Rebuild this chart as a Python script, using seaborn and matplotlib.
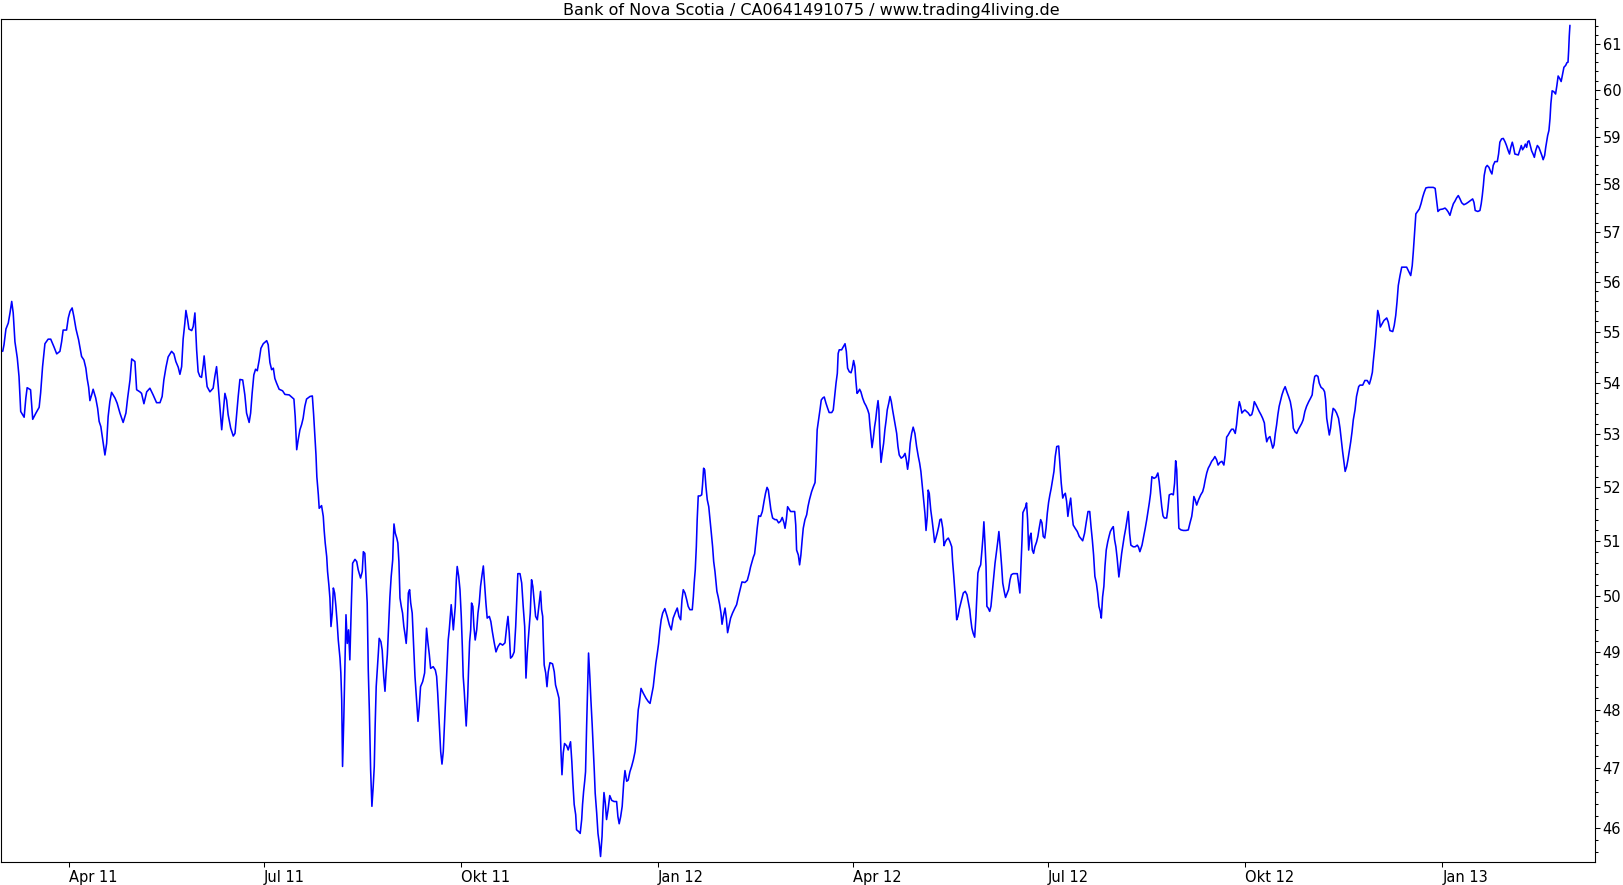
import matplotlib
matplotlib.use("Agg")
import matplotlib.pyplot as plt
from matplotlib.ticker import FixedLocator, FixedFormatter, NullFormatter, NullLocator
import pandas as pd
import seaborn as sns

TITLE = "Bank of Nova Scotia / CA0641491075 / www.trading4living.de"
START = "2011-03-01"

# days since START
DAYS = [
    0.1, 0.7, 1.6, 2.7, 3.5, 4.3, 5.0, 5.8, 6.9, 7.7,
    8.5, 9.4, 10.1, 10.9, 11.5, 13.1, 14.1, 15.6, 17.1, 17.8,
    18.7, 19.8, 21.3, 22.5, 24.0, 25.3, 26.8, 27.6, 28.3, 29.9,
    30.7, 31.5, 32.5, 33.3, 34.3, 35.5, 36.9, 38.0, 38.9, 39.5,
    40.2, 40.8, 41.6, 42.3, 43.5, 44.4, 45.1, 45.9, 47.0, 47.8,
    48.6, 49.3, 50.1, 50.9, 52.5, 53.5, 54.8, 56.3, 57.6, 58.4,
    59.5, 60.3, 61.8, 62.6, 64.1, 64.9, 66.0, 67.3, 68.8, 70.3,
    71.9, 73.5, 74.5, 75.3, 76.3, 77.3, 78.9, 80.0, 80.9, 82.0,
    82.8, 83.6, 84.3, 85.1, 85.6, 86.4, 87.0, 88.3, 89.0, 89.8,
    90.6, 91.3, 92.1, 92.9, 93.7, 94.1, 94.9, 95.5, 96.8, 98.3,
    99.1, 99.9, 100.7, 101.5, 102.3, 103.0, 103.8, 104.6, 105.3, 106.5,
    107.7, 108.5, 109.3, 110.0, 110.8, 112.1, 113.1, 113.9, 115.1, 115.8,
    116.5, 117.3, 118.1, 118.9, 119.8, 120.6, 121.7, 123.3, 124.0,
    124.8, 125.6, 126.4, 127.1, 127.9, 129.1, 130.7, 131.8, 133.8, 134.9,
    136.0, 136.6, 137.3, 138.0, 138.8, 139.6, 140.3, 141.1, 141.9, 143.5,
    144.6, 145.2, 145.8, 146.3, 146.7, 147.4, 147.8, 148.9, 149.7, 150.1,
    150.6, 151.3, 151.7, 152.3, 152.8, 153.3, 153.9, 154.4, 155.0, 155.6,
    156.2, 156.7, 157.5, 157.9, 158.3, 158.7, 159.3, 159.8, 160.3, 160.9,
    161.5, 162.1, 162.5, 162.9, 163.4, 164.5, 165.3, 166.0, 167.1, 167.9,
    168.4, 169.1, 169.6, 170.2, 170.7, 171.2, 171.8, 172.4, 173.0, 173.5,
    173.9, 174.4, 174.9, 175.4, 175.8, 176.6, 177.2, 177.9, 178.5, 179.0,
    179.6, 180.2, 180.8, 181.4, 182.1, 182.4, 182.7, 183.3, 184.0, 184.5,
    185.0, 185.5, 186.1, 186.7, 187.3, 187.9, 188.4, 188.9, 189.4, 190.0,
    190.5, 191.2, 192.0, 192.5, 192.9, 193.4, 193.9, 194.5, 195.1, 196.1,
    197.0, 197.5, 197.9, 198.5, 199.2, 199.8, 201.0, 202.0, 202.6, 203.1,
    203.5, 204.0, 204.5, 205.1, 205.7, 206.3, 206.9, 207.4, 208.0, 208.5,
    209.0, 209.4, 209.9, 210.4, 210.8, 211.3, 211.8, 212.2, 212.9, 213.5,
    214.1, 214.6, 215.0, 215.5, 216.0, 216.4, 217.1, 217.5, 218.0, 218.5,
    218.9, 219.5, 220.0, 220.6, 221.3, 221.9, 222.5, 223.1, 223.8, 224.4,
    225.0, 225.6, 226.2, 227.2, 227.9, 228.6, 229.4, 230.3, 231.2, 232.2,
    233.4, 234.5, 235.3, 235.9, 236.5, 237.1, 237.9, 238.8, 239.5, 240.0,
    240.5, 241.5, 242.3, 243.0, 243.7, 244.3, 244.9, 245.7, 246.3, 246.9,
    247.5, 248.2, 248.8, 249.6, 250.5,
    251.1, 251.6, 252.1, 252.4, 252.8, 253.5, 254.1, 254.7, 255.5, 256.7,
    257.5, 258.1, 258.9, 259.7, 260.2, 260.6, 261.1, 261.7, 262.3, 263.3,
    264.0, 265.1, 265.7, 266.2, 266.8, 267.5, 267.9, 268.9, 269.6, 270.3,
    270.7, 271.2, 271.7, 272.1, 272.6, 273.1, 273.5, 274.1, 274.6, 275.2,
    275.7, 276.2, 276.6, 277.3, 277.9, 278.5, 279.1, 279.8, 280.2, 280.7,
    281.3, 281.9, 282.6, 283.4, 284.3, 285.4, 286.6, 287.2, 287.8, 288.5,
    289.2, 289.9, 290.5, 291.3, 292.0, 292.8, 293.6, 294.4, 295.2, 295.8,
    296.2, 296.7, 297.2, 298.0, 299.0, 300.3, 301.4, 302.2, 303.1, 303.7,
    304.3, 304.9, 305.6, 306.2, 306.8, 307.4, 308.1, 309.1, 310.2, 311.2,
    312.1, 313.0, 314.0, 314.9, 315.7, 316.5, 317.1, 317.7, 318.5, 319.3,
    320.0, 320.8, 321.9, 322.4, 322.8, 323.3, 323.8, 324.2, 324.7, 325.5,
    326.3, 326.7, 327.2, 327.7, 328.3, 328.9, 329.6, 330.2, 330.8, 331.4,
    331.9, 332.5, 333.0, 333.4, 334.0, 334.7, 335.3, 335.8, 336.4, 337.2,
    337.8, 338.4, 339.0, 339.8, 340.7, 341.8, 342.6, 343.4, 344.2, 345.1,
    346.5, 347.6, 348.5, 349.1, 349.8, 350.4, 351.0, 351.6, 352.2, 352.9,
    353.8, 354.6, 355.4, 356.1, 356.8, 357.4, 358.0, 358.6, 359.4, 360.5,
    361.3, 362.2, 363.1, 363.9, 364.7, 365.2, 365.8, 366.4, 367.2, 367.8,
    369.7, 370.2, 370.6, 371.4, 372.0, 372.6, 373.2, 373.7, 374.5, 375.3, 375.9, 376.6,
    377.6, 378.4, 379.2, 379.6, 380.2, 380.9, 381.5, 382.1, 382.8, 383.5,
    384.3, 385.1, 385.8, 387.0, 387.7, 388.4, 389.0, 389.6, 390.0, 390.5,
    391.6, 392.4, 393.2, 393.8, 394.4, 395.2, 396.0, 396.6, 397.2, 397.8,
    398.3, 398.8, 399.4, 400.0, 400.6, 401.4, 402.2, 403.0, 403.8, 404.4,
    404.8, 405.3, 405.8, 406.4, 407.0, 407.5, 408.0, 408.6, 409.0, 409.5,
    410.0, 410.6, 411.2, 411.8, 412.4, 412.9, 413.6, 414.2, 414.8, 415.4,
    416.0, 416.6, 417.3, 417.9, 418.5, 419.4, 420.4, 421.2, 421.8, 422.4,
    423.0, 423.6, 424.3, 425.0, 425.8, 426.6, 427.4, 428.0, 428.6, 429.1,
    429.6, 430.0, 430.5, 431.0, 431.6, 432.0, 432.5, 433.2, 433.8, 434.4,
    435.0, 435.6, 436.2, 436.9, 437.5, 438.1, 438.8, 439.4, 440.0, 440.6,
    441.4, 442.2, 443.0, 443.4, 443.9, 444.4, 444.8, 445.3, 445.9, 446.5,
    447.2, 447.8, 448.4, 449.3, 450.1, 450.7, 451.4, 451.8, 452.4, 453.0,
    453.7, 454.3, 454.8, 455.2, 455.8, 456.5, 457.1, 457.6, 458.0, 458.5,
    459.0, 459.4, 460.0, 460.7, 461.3, 461.9, 462.6, 463.2, 463.8, 464.4,
    465.0, 465.6, 466.3, 466.8, 467.5, 468.1, 468.9, 469.5, 470.2, 470.8,
    471.7, 473.6, 474.2, 474.8, 475.3, 475.8, 476.2, 476.8, 477.5, 477.9,
    478.4, 478.9, 479.5, 480.0, 480.6, 481.2, 481.8, 482.6, 483.2, 483.8,
    484.5, 485.1, 485.7, 486.4, 487.0, 487.6, 488.2, 488.8, 489.4, 490.1,
    490.7, 491.3, 492.0, 492.9, 493.5, 494.1, 494.8, 495.4, 496.0, 496.6,
    497.2, 497.8, 498.5, 499.1, 499.7, 500.6, 501.6, 502.5,
    504.1, 505.0, 505.8, 506.6, 507.4, 508.0, 508.6, 509.2, 509.8, 510.5,
    511.1, 511.7, 512.3, 512.8, 513.4, 514.0, 514.5, 515.1, 515.8, 516.4,
    517.0, 517.8, 518.4, 519.0, 519.6, 520.2, 521.0, 521.6, 522.3, 522.9,
    523.5, 524.2, 524.8, 525.4, 526.0, 526.6, 527.7, 528.6, 529.6, 530.2,
    530.8, 531.8, 532.6, 533.3, 534.0, 534.6, 535.2, 535.8, 536.4, 537.4,
    538.3, 539.2, 539.8, 540.3, 541.0, 541.6, 542.2, 543.3, 543.9, 544.5,
    545.6, 546.4, 547.0, 547.5, 548.0, 548.2, 548.6, 549.0, 550.0, 551.1,
    552.3, 553.4, 554.2, 555.0, 555.4, 556.0, 556.6, 557.3, 558.2, 559.2,
    560.1, 560.7, 561.3, 562.0, 562.7, 563.5, 564.3, 565.1, 565.8, 566.6,
    567.3, 568.2, 569.1, 570.0, 570.6, 571.3, 572.0, 572.8, 573.6, 574.4,
    575.3, 575.9, 576.6, 577.2, 577.8, 578.4, 579.0, 579.8, 580.6, 581.4,
    582.2, 583.0, 583.6, 584.2, 585.0, 585.8, 586.5, 587.3, 588.1, 588.9,
    589.3, 590.0, 590.7, 591.5, 592.1, 592.8, 593.4, 594.0, 594.6, 595.2,
    595.8, 596.5, 597.1, 597.9, 598.6, 599.4, 600.2, 601.0, 601.8, 602.4,
    603.2, 604.0, 604.7, 605.5, 606.3, 607.0, 607.8, 608.6, 609.6, 610.5,
    611.2, 611.7, 612.4, 613.1, 613.9, 614.5, 615.3, 616.4, 617.0, 617.5,
    618.0, 618.6, 619.2, 619.8, 620.4, 621.0, 621.8, 622.6, 623.5, 624.2,
    624.8, 625.4, 626.0, 626.6, 627.3, 627.9, 628.5, 629.2, 629.8, 630.4, 631.2, 631.9, 632.9,
    633.5, 634.8, 635.8, 636.9, 637.9, 638.6, 639.3, 639.7, 640.4, 641.0,
    641.8, 642.4, 643.0, 643.8, 644.7, 646.0, 646.7, 647.5, 648.8, 649.5,
    650.2, 650.8, 651.4, 652.2, 653.0, 654.1, 655.3, 656.1, 657.2, 657.9,
    658.4, 659.0, 659.6, 660.4, 661.2, 662.0, 662.8, 663.5, 664.3, 665.4,
    667.7, 668.6, 669.3, 669.9, 670.8, 672.1, 673.2, 673.9, 674.7, 675.5,
    676.3, 677.1, 677.8, 678.6, 679.4, 680.2, 681.0, 682.0, 683.0, 684.0,
    685.2, 686.1, 686.7, 687.3, 688.5, 689.5, 690.1, 690.6, 691.1, 691.5,
    692.2, 692.9, 693.7, 694.5, 695.1, 695.7, 696.5, 697.6, 698.2, 698.8,
    699.6, 700.4, 701.2, 701.9, 702.7, 703.3, 703.9, 704.6, 705.2, 705.8,
    707.4, 708.2, 708.8, 709.4, 710.1, 710.7, 711.3, 711.8, 712.4, 713.0,
    713.6, 714.3, 714.9, 715.5, 716.3, 717.0, 717.8, 718.4, 719.0, 719.7,
    720.2, 720.6, 721.1, 721.7, 722.2, 722.6, 723.2, 724.0, 724.8, 725.4,
    726.0, 726.8, 727.4, 728.1, 728.7, 729.5, 730.1, 730.6, 730.9, 731.2, 731.5,
]

PRICES = [
    54.61, 54.74, 55.05, 55.17, 55.37, 55.60, 55.37, 54.80, 54.48, 54.12,
    53.44, 53.38, 53.33, 53.70, 53.90, 53.86, 53.29, 53.41, 53.52, 53.80,
    54.31, 54.76, 54.85, 54.85, 54.70, 54.56, 54.61, 54.80, 55.03, 55.03,
    55.27, 55.40, 55.47, 55.30, 55.05, 54.84, 54.51, 54.44, 54.28, 54.08,
    53.91, 53.65, 53.76, 53.87, 53.70, 53.50, 53.25, 53.15, 52.84, 52.61,
    52.83, 53.34, 53.63, 53.81, 53.70, 53.60, 53.41, 53.23, 53.41, 53.70,
    54.05, 54.46, 54.41, 53.86, 53.82, 53.79, 53.59, 53.82, 53.89, 53.76,
    53.61, 53.61, 53.73, 54.05, 54.30, 54.50, 54.61, 54.56, 54.41, 54.30,
    54.16, 54.31, 54.85, 55.17, 55.42, 55.23, 55.05, 55.02, 55.10, 55.37,
    54.64, 54.21, 54.12, 54.10, 54.35, 54.52, 54.15, 53.92, 53.82, 53.89,
    54.12, 54.31, 53.92, 53.50, 53.09, 53.41, 53.79, 53.66, 53.38, 53.12,
    52.97, 53.02, 53.41, 53.73, 54.06, 54.05, 53.76, 53.41, 53.23, 53.41,
    53.79, 54.15, 54.26, 54.23, 54.44, 54.67, 54.76, 54.82, 54.74,
    54.39, 54.25, 54.28, 54.08, 53.99, 53.87, 53.84, 53.77, 53.76, 53.72,
    53.68, 53.34, 52.71, 52.90, 53.09, 53.19, 53.31, 53.54, 53.68, 53.73,
    53.74, 53.38, 52.96, 52.61, 52.20, 51.86, 51.61, 51.66, 51.46, 51.21,
    50.97, 50.72, 50.45, 50.21, 49.97, 49.46, 49.70, 50.15, 50.06, 49.82,
    49.52, 49.22, 48.90, 48.64, 48.17, 47.03, 47.88, 48.75, 49.67, 49.16,
    49.40, 48.87, 49.43, 49.99, 50.60, 50.67, 50.63, 50.48, 50.33, 50.45,
    50.81, 50.78, 50.36, 49.88, 48.69, 48.00, 46.97, 46.36, 46.69, 47.03,
    47.71, 48.40, 48.69, 48.99, 49.25, 49.19, 49.04, 48.58, 48.32, 48.64,
    48.96, 49.46, 49.99, 50.36, 50.66, 51.03, 51.32, 51.15, 51.06, 50.97,
    50.63, 49.97, 49.82, 49.70, 49.46, 49.31, 49.16, 49.46, 50.06, 50.12,
    49.88, 49.70, 48.99, 48.58, 48.35, 48.05, 47.80, 48.05, 48.40, 48.49,
    48.64, 49.10, 49.43, 49.19, 48.96, 48.72, 48.75, 48.69, 48.58, 48.29,
    48.00, 47.65, 47.28, 47.07, 47.28, 47.77, 48.26, 48.72, 49.22, 49.40,
    49.64, 49.85, 49.64, 49.40, 49.58, 49.82, 50.30, 50.54, 50.36, 50.12,
    49.64, 49.10, 48.58, 48.32, 48.00, 47.72, 48.23, 48.69, 49.19, 49.40,
    49.88, 49.82, 49.46, 49.22, 49.40, 49.70, 49.88, 50.18, 50.39, 50.55,
    50.21, 49.88, 49.61, 49.64, 49.55, 49.37, 49.19, 49.01, 49.10, 49.16,
    49.13, 49.17, 49.46, 49.64, 49.34, 48.90, 48.93, 49.01, 49.46, 49.94,
    50.41, 50.41, 50.24, 49.82, 49.46, 48.55, 48.99, 49.40, 49.70, 50.30,
    50.18, 49.88, 49.64, 49.58, 49.88,
    50.09, 49.76, 49.64, 49.22, 48.78, 48.64, 48.40, 48.66, 48.82, 48.80,
    48.66, 48.43, 48.32, 48.20, 47.77, 47.31, 46.89, 47.26, 47.42, 47.38,
    47.31, 47.45, 47.11, 46.75, 46.39, 46.22, 45.97, 45.94, 45.91, 46.14,
    46.39, 46.61, 46.78, 46.94, 47.71, 48.38, 48.99, 48.58, 48.17, 47.74,
    47.34, 46.94, 46.58, 46.25, 45.91, 45.75, 45.53, 45.86, 46.25, 46.59,
    46.42, 46.14, 46.30, 46.54, 46.46, 46.44, 46.44, 46.19, 46.07, 46.19,
    46.36, 46.75, 46.96, 46.78, 46.80, 46.94, 47.03, 47.14, 47.28, 47.48,
    47.74, 48.00, 48.11, 48.37, 48.29, 48.20, 48.14, 48.11, 48.29, 48.40,
    48.61, 48.81, 48.99, 49.16, 49.40, 49.58, 49.70, 49.78, 49.64, 49.49,
    49.40, 49.61, 49.71, 49.79, 49.64, 49.58, 49.94, 50.12, 50.06, 49.94,
    49.82, 49.76, 49.76, 49.99, 50.24, 50.48, 50.90, 51.40, 51.84, 51.84,
    51.86, 52.05, 52.36, 52.33, 52.01, 51.77, 51.64, 51.40, 51.15, 50.90,
    50.63, 50.45, 50.24, 50.09, 49.99, 49.85, 49.70, 49.50, 49.64, 49.79,
    49.61, 49.35, 49.46, 49.61, 49.70, 49.79, 49.85, 49.99, 50.12, 50.26,
    50.25, 50.29, 50.42, 50.53, 50.63, 50.71, 50.77, 50.99, 51.24, 51.47,
    51.46, 51.55, 51.74, 51.89, 52.00, 51.95, 51.77, 51.58, 51.43, 51.40,
    51.40, 51.34, 51.37, 51.44, 51.34, 51.24, 51.40, 51.64, 51.59, 51.55,
    51.55, 51.30, 50.84, 50.75, 50.57, 50.75, 51.03, 51.24, 51.40, 51.49, 51.64, 51.77,
    51.92, 52.01, 52.09, 52.42, 53.09, 53.29, 53.47, 53.66, 53.70, 53.72,
    53.60, 53.50, 53.42, 53.42, 53.47, 53.76, 53.99, 54.18, 54.57, 54.64,
    54.64, 54.70, 54.76, 54.61, 54.28, 54.21, 54.19, 54.28, 54.43, 54.31,
    54.02, 53.79, 53.82, 53.87, 53.82, 53.70, 53.61, 53.55, 53.47, 53.39,
    53.18, 52.96, 52.75, 52.93, 53.15, 53.28, 53.47, 53.65, 53.47, 52.83,
    52.47, 52.66, 52.83, 53.09, 53.28, 53.47, 53.60, 53.73, 53.63, 53.47,
    53.33, 53.18, 53.02, 52.77, 52.61, 52.55, 52.58, 52.64, 52.52, 52.34,
    52.52, 52.83, 53.02, 53.14, 53.02, 52.77, 52.58, 52.46, 52.30, 52.09,
    51.90, 51.71, 51.51, 51.20, 51.46, 51.95, 51.89, 51.58, 51.40, 51.20,
    50.98, 51.06, 51.15, 51.27, 51.40, 51.41, 51.24, 50.92, 50.99, 51.03,
    51.06, 50.99, 50.90, 50.63, 50.39, 50.12, 49.91, 49.58, 49.64, 49.77,
    49.88, 49.97, 50.06, 50.09, 50.03, 49.91, 49.76, 49.61, 49.43, 49.34,
    49.27, 49.64, 50.06, 50.42, 50.51, 50.57, 50.84, 51.09, 51.36, 50.97,
    50.54, 49.82, 49.79, 49.73, 49.82, 50.06, 50.36, 50.60, 50.78, 50.97,
    51.18, 50.90, 50.54, 50.24, 50.09, 49.98, 50.06, 50.12, 50.30, 50.39,
    50.41, 50.41, 50.24, 50.06, 50.54, 51.03, 51.53, 51.58, 51.64, 51.71,
    51.40, 50.84, 51.09, 51.15, 50.84, 50.78, 50.90, 50.99, 51.09, 51.24,
    51.40, 51.34, 51.09, 51.06, 51.24, 51.52, 51.72, 51.86, 51.98, 52.15,
    52.30, 52.58, 52.77, 52.78, 52.42, 52.08, 51.80, 51.86, 51.89, 51.74,
    51.46, 51.64, 51.80, 51.52, 51.30, 51.24, 51.18, 51.09,
    51.01, 51.15, 51.36, 51.55, 51.55, 51.27, 51.03, 50.75, 50.36, 50.24,
    50.06, 49.82, 49.73, 49.61, 49.99, 50.18, 50.54, 50.84, 50.99, 51.09,
    51.18, 51.24, 51.27, 51.03, 50.90, 50.69, 50.35, 50.54, 50.78, 50.93,
    51.09, 51.24, 51.40, 51.55, 51.15, 50.93, 50.90, 50.90, 50.93, 50.89,
    50.81, 50.93, 51.09, 51.24, 51.40, 51.55, 51.71, 51.89, 52.20, 52.17,
    52.19, 52.27, 52.11, 51.92, 51.64, 51.47, 51.43, 51.43, 51.61, 51.86,
    51.88, 51.86, 52.08, 52.50, 52.33, 52.08, 51.67, 51.24, 51.21, 51.20,
    51.20, 51.21, 51.34, 51.46, 51.58, 51.83, 51.77, 51.67, 51.77, 51.86,
    51.92, 52.01, 52.14, 52.27, 52.36, 52.42, 52.49, 52.53, 52.58, 52.52,
    52.42, 52.47, 52.49, 52.42, 52.61, 52.95, 52.99, 53.05, 53.10, 53.10,
    53.02, 53.18, 53.47, 53.63, 53.54, 53.41, 53.44, 53.47, 53.44, 53.41,
    53.36, 53.38, 53.47, 53.63, 53.57, 53.50, 53.44, 53.38, 53.31, 53.22,
    53.05, 52.86, 52.93, 52.96, 52.86, 52.74, 52.80, 53.02, 53.18, 53.38,
    53.54, 53.66, 53.76, 53.86, 53.92, 53.82, 53.73, 53.63, 53.44, 53.12,
    53.05, 53.02, 53.09, 53.15, 53.21, 53.28, 53.44, 53.54, 53.63, 53.70,
    53.76, 53.95, 54.12, 54.14, 54.12, 53.99, 53.91, 53.87, 53.82, 53.66,
    53.31, 53.15, 52.99, 53.12, 53.34, 53.50, 53.47, 53.41, 53.31, 53.12,
    52.90, 52.68, 52.49, 52.30, 52.39, 52.52, 52.68, 52.86, 53.05, 53.28, 53.47, 53.73, 53.92,
    53.95, 53.95, 54.04, 54.04, 53.97, 54.07, 54.20, 54.40, 54.69, 54.99,
    55.42, 55.32, 55.09, 55.15, 55.22, 55.27, 55.19, 55.02, 55.00, 55.12,
    55.32, 55.59, 55.92, 56.12, 56.29, 56.29, 56.29, 56.22, 56.12, 56.32,
    56.60, 57.00, 57.38, 57.43, 57.48, 57.59, 57.73, 57.83, 57.92, 57.93,
    57.93, 57.91, 57.66, 57.43, 57.47, 57.48, 57.50, 57.47, 57.42, 57.35,
    57.48, 57.59, 57.64, 57.71, 57.76, 57.69, 57.61, 57.57, 57.59, 57.62,
    57.66, 57.69, 57.62, 57.45, 57.43, 57.45, 57.59, 57.76, 57.97, 58.18,
    58.35, 58.39, 58.35, 58.26, 58.21, 58.39, 58.47, 58.47, 58.63, 58.88,
    58.95, 58.96, 58.89, 58.81, 58.70, 58.63, 58.77, 58.88, 58.77, 58.63,
    58.61, 58.72, 58.81, 58.72, 58.77, 58.84, 58.77, 58.89, 58.91, 58.81,
    58.70, 58.63, 58.56, 58.70, 58.81, 58.77, 58.67, 58.60, 58.51, 58.60,
    58.77, 58.88, 59.02, 59.13, 59.38, 59.70, 59.98, 59.96, 59.91, 60.09,
    60.30, 60.24, 60.18, 60.35, 60.49, 60.53, 60.59, 60.60, 60.85, 61.18, 61.41,
]

XTICK_DATES = ["2011-04-01", "2011-07-01", "2011-10-01", "2012-01-01",
               "2012-04-01", "2012-07-01", "2012-10-01", "2013-01-01"]
XTICK_LABELS = ["Apr 11", "Jul 11", "Okt 11", "Jan 12",
                "Apr 12", "Jul 12", "Okt 12", "Jan 13"]
YTICKS = list(range(46, 62))
Y_MIN, Y_MAX = 45.44, 61.55

assert len(DAYS) == len(PRICES), (len(DAYS), len(PRICES))

sns.set_theme(style="ticks")
plt.rcParams["font.family"] = ["DejaVu Sans"]

start = pd.Timestamp(START)
df = pd.DataFrame({
    "date": start + pd.to_timedelta(DAYS, unit="D"),
    "price": PRICES,
})

W, H = 1623, 885
fig = plt.figure(figsize=(W / 100, H / 100), dpi=100)
fig.patch.set_facecolor("white")
ax = fig.add_axes([1 / W, 1 - 862 / H, 1594 / W, 843 / H])
ax.set_facecolor("white")

sns.lineplot(data=df, x="date", y="price", ax=ax, color="#0000ff",
             linewidth=1.15, sort=False, estimator=None)

ax.set_yscale("log")
ax.set_ylim(Y_MIN, Y_MAX)
ax.set_xlim(start - pd.Timedelta(days=0.7), start + pd.Timedelta(days=743.2))

ax.yaxis.tick_right()
ax.yaxis.set_label_position("right")
ax.yaxis.set_major_locator(FixedLocator(YTICKS))
ax.yaxis.set_major_formatter(FixedFormatter([str(t) for t in YTICKS]))
minor = [round(i + f, 2) for i in range(45, 62) for f in (0.2, 0.4, 0.6, 0.8)]
minor = [m for m in minor if Y_MIN < m < Y_MAX]
ax.yaxis.set_minor_locator(FixedLocator(minor))
ax.yaxis.set_minor_formatter(NullFormatter())

ax.set_xticks(pd.to_datetime(XTICK_DATES))
ax.set_xticklabels(XTICK_LABELS)
for lbl in ax.get_xticklabels():
    lbl.set_horizontalalignment("left")
ax.xaxis.set_minor_locator(NullLocator())

ax.tick_params(axis="x", which="major", direction="out", length=3.6, width=0.75,
               pad=2, labelsize=10.5, colors="black")
ax.tick_params(axis="y", which="major", direction="out", length=3.6, width=0.75,
               pad=2, labelsize=10.5, colors="black")
ax.tick_params(axis="y", which="minor", direction="out", length=2.0, width=0.75,
               colors="black")

for s in ax.spines.values():
    s.set_visible(True)
    s.set_linewidth(0.8)
    s.set_color("black")

ax.set_xlabel("")
ax.set_ylabel("")
ax.grid(False)

fig.text(0.5, 1 - 15.5 / H, TITLE, ha="center", va="baseline", fontsize=11.5,
         color="black")

fig.savefig("out.png", dpi=100, facecolor="white")
